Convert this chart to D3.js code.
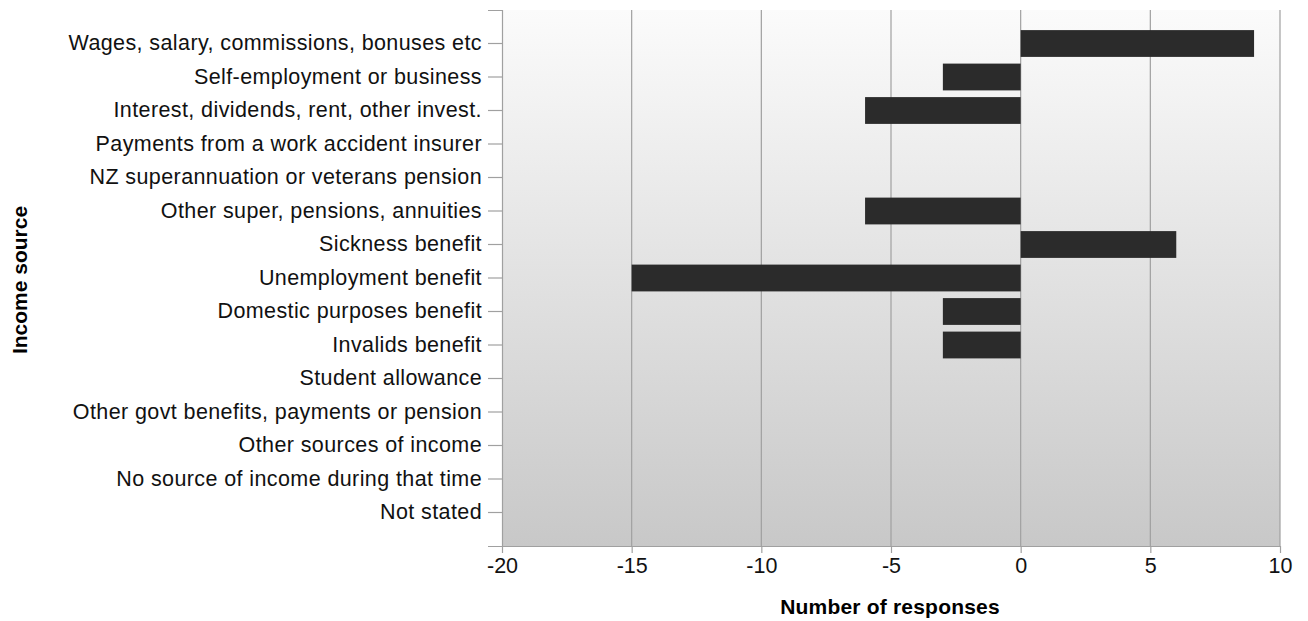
<!DOCTYPE html>
<html>
<head>
<meta charset="utf-8">
<script src="https://cdn.jsdelivr.net/npm/d3@7"></script>
<style>
  body { margin: 0; background: #fff; }
  text { font-family: "Liberation Sans", Arial, sans-serif; }
</style>
</head>
<body>
<div id="chart"></div>
<script>
const categories = [
  "Wages, salary, commissions, bonuses etc",
  "Self-employment or business",
  "Interest, dividends, rent, other invest.",
  "Payments from a work accident insurer",
  "NZ superannuation or veterans pension",
  "Other super, pensions, annuities",
  "Sickness benefit",
  "Unemployment benefit",
  "Domestic purposes benefit",
  "Invalids benefit",
  "Student allowance",
  "Other govt benefits, payments or pension",
  "Other sources of income",
  "No source of income during that time",
  "Not stated"
];
const values = [9, -3, -6, 0, 0, -6, 6, -15, -3, -3, 0, 0, 0, 0, 0];
const xTicks = [-20, -15, -10, -5, 0, 5, 10];

const width = 1308, height = 621;
const margin = { top: 10, right: 28, bottom: 75, left: 502 };
const innerW = width - margin.left - margin.right;
const innerH = height - margin.top - margin.bottom;

const svg = d3.select('#chart').append('svg')
  .attr('width', width)
  .attr('height', height);

const defs = svg.append('defs');
const grad = defs.append('linearGradient')
  .attr('id', 'bg').attr('x1', 0).attr('y1', 0).attr('x2', 0).attr('y2', 1);
grad.append('stop').attr('offset', '0%').attr('stop-color', '#fbfbfb');
grad.append('stop').attr('offset', '100%').attr('stop-color', '#c8c8c8');

const plot = svg.append('g')
  .attr('transform', `translate(${margin.left},${margin.top})`);

const xScale = d3.scaleLinear().domain([-20, 10]).range([0, innerW]);
const yScale = d3.scaleBand().domain(categories).range([0, innerH])
  .paddingInner(0).paddingOuter(0.5);

plot.append('rect')
  .attr('width', innerW).attr('height', innerH)
  .attr('fill', 'url(#bg)');

// vertical grid
plot.append('g').selectAll('line')
  .data(xTicks.filter(t => t !== -20))
  .enter().append('line')
  .attr('x1', d => xScale(d)).attr('x2', d => xScale(d))
  .attr('y1', 0).attr('y2', innerH)
  .attr('stroke', '#a0a0a0').attr('stroke-width', 1.2);

// bars
const bh = yScale.bandwidth() * 0.8;
plot.selectAll('.bar')
  .data(categories.map((c, i) => ({ c, v: values[i] })).filter(d => d.v !== 0))
  .enter().append('rect')
  .attr('class', 'bar')
  .attr('x', d => xScale(Math.min(0, d.v)))
  .attr('width', d => Math.abs(xScale(d.v) - xScale(0)))
  .attr('y', d => yScale(d.c) + (yScale.bandwidth() - bh) / 2)
  .attr('height', bh)
  .attr('fill', '#2b2b2b');

const xAxis = d3.axisBottom(xScale).tickValues(xTicks)
  .tickFormat(d => String(d))
  .tickSize(7).tickSizeOuter(0).tickPadding(5);
const yAxis = d3.axisLeft(yScale).tickSize(14).tickSizeOuter(14).tickPadding(6);

const gx = plot.append('g')
  .attr('transform', `translate(0,${innerH})`)
  .call(xAxis);
const gy = plot.append('g').call(yAxis);

[gx, gy].forEach(g => {
  g.select('.domain').attr('stroke', '#a0a0a0').attr('stroke-width', 1.2);
  g.selectAll('.tick line').attr('stroke', '#a0a0a0').attr('stroke-width', 1.2);
  g.selectAll('.tick text').attr('fill', '#111').style('font-size', '21.5px')
    .style('font-family', '"Liberation Sans", Arial, sans-serif');
});
gy.selectAll('.tick text').style('letter-spacing', '0.4px');

svg.append('text')
  .attr('x', 890)
  .attr('y', 614)
  .attr('text-anchor', 'middle')
  .style('font-size', '21px').style('font-weight', 'bold')
  .style('letter-spacing', '0.2px')
  .text('Number of responses');

svg.append('text')
  .attr('transform', `translate(27,${margin.top + innerH / 2 + 2}) rotate(-90)`)
  .attr('text-anchor', 'middle')
  .style('font-size', '21px').style('font-weight', 'bold')
  .text('Income source');
</script>
</body>
</html>
